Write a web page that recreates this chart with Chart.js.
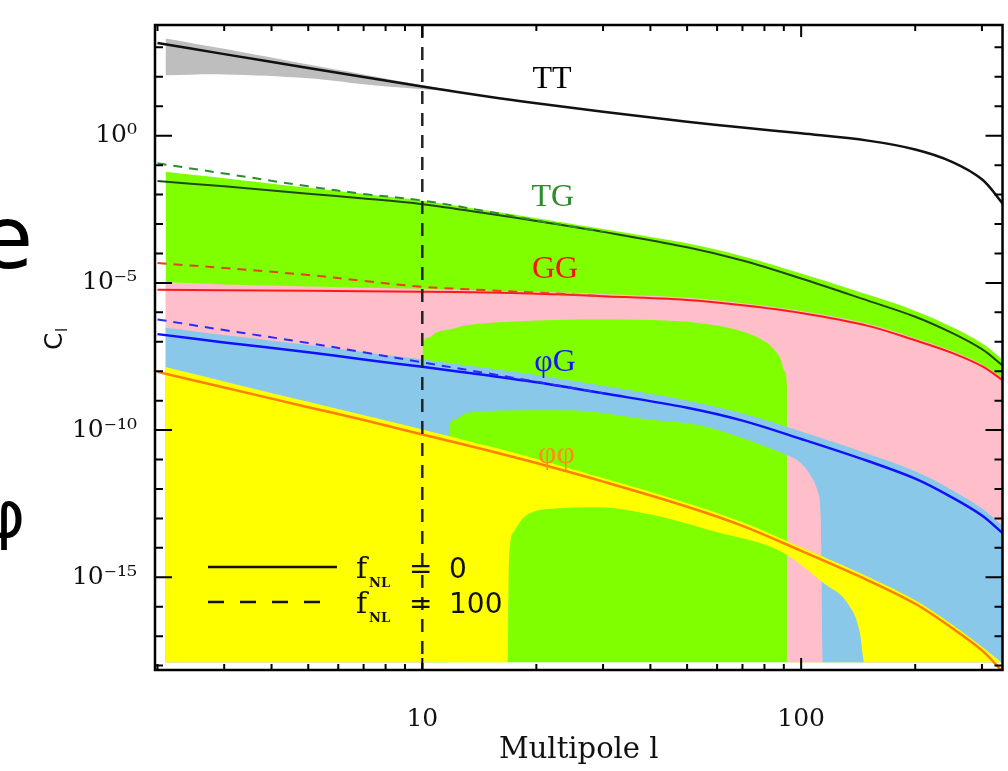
<!DOCTYPE html>
<html>
<head>
<meta charset="utf-8">
<title>Angular power spectra</title>
<script src="https://cdn.jsdelivr.net/npm/chart.js@4.4.1/dist/chart.umd.min.js"></script>
<style>
  body { margin: 0; background: #fff; }
  canvas { display: block; }
</style>
</head>
<body>
<canvas id="spectra" width="1008" height="771"></canvas>
<script>
'use strict';

// axis ranges
let ellMin = 1.97;
let ellMax = 340;
let clMin = 7.1e-19;
let clMax = 5.75e3;
// the shaded bands stop at this level
let clFloor = 1.3e-18;

// tick marks and their labels
let ellTicks = [2, 3, 4, 5, 6, 7, 8, 9, 10, 20, 30, 40, 50, 60, 70, 80, 90, 100, 200, 300];
let ellTickLabels = { 10: '10', 100: '100' };
let clDecades = [3, 2, 1, 0, -1, -2, -3, -4, -5, -6, -7, -8, -9, -10, -11, -12, -13, -14, -15, -16, -17, -18];
let clTickLabels = { '0': '10⁰', '-5': '10⁻⁵', '-10': '10⁻¹⁰', '-15': '10⁻¹⁵' };

// spectra, fNL = 0
let ells = [2, 3, 5, 7, 10, 15, 20, 30, 50, 70, 100, 150, 200, 250, 300, 340];
let clTT = [1.41e3, 5.9e2, 2.0e2, 98, 47, 21, 12.6, 6.5, 3.0, 1.9, 1.2, 0.68, 0.34, 0.13, 0.033, 0.005];
let clTG = [2.9e-2, 1.9e-2, 1.07e-2, 7.4e-3, 4.7e-3, 2.24e-3, 1.26e-3, 5.4e-4, 1.62e-4, 5.75e-5, 1.41e-5, 2.5e-6, 7.1e-7, 2.0e-7, 5.6e-8, 1.58e-8];
let clGG = [5.9e-6, 5.6e-6, 5.4e-6, 5.25e-6, 5.0e-6, 4.7e-6, 4.3e-6, 3.55e-6, 2.63e-6, 1.74e-6, 9.5e-7, 3.47e-7, 1.12e-7, 4.2e-8, 1.48e-8, 5.0e-9];
let clPG = [1.82e-7, 9.5e-8, 4.4e-8, 2.5e-8, 1.41e-8, 7.1e-9, 4.2e-9, 1.78e-9, 5.75e-10, 2.1e-10, 5.0e-11, 8.9e-12, 2.24e-12, 5.2e-13, 1.26e-13, 3.2e-14];
let clPP = [9.5e-9, 2.8e-9, 6.0e-10, 2.2e-10, 7.1e-11, 2.0e-11, 7.6e-12, 1.78e-12, 2.5e-13, 5.6e-14, 7.9e-15, 7.9e-16, 1.26e-16, 1.9e-17, 3.3e-18, 6.3e-19];

// spectra, fNL = 100 (only at low l, they join the fNL = 0 curves above)
let ellsLow = [2, 3, 5, 7, 10, 15, 20, 30];
let clTG100 = [0.115, 5.2e-2, 1.9e-2, 1.05e-2, 6.3e-3, 2.6e-3, 1.32e-3, 5.4e-4];
let clGG100 = [4.7e-5, 3.2e-5, 1.86e-5, 1.17e-5, 7.4e-6, 5.6e-6, 4.7e-6, 3.55e-6];
let clPG100 = [5.75e-7, 2.5e-7, 9.1e-8, 4.4e-8, 2.0e-8, 8.3e-9, 4.4e-9, 1.78e-9];

// error bands: upper edges
let bandEll = [2.1, 3, 5, 7, 10, 15, 20, 30, 50, 70, 100, 150, 200, 250, 300, 340];
let tgUpper = [6.0e-2, 3.6e-2, 1.7e-2, 1.05e-2, 6.2e-3, 2.8e-3, 1.58e-3, 6.8e-4, 2.2e-4, 8.1e-5, 2.1e-5, 4.0e-6, 1.12e-6, 3.2e-7, 8.9e-8, 2.5e-8];
let ggUpper = [1.07e-5, 8.9e-6, 7.6e-6, 6.9e-6, 6.3e-6, 5.5e-6, 5.0e-6, 4.2e-6, 3.1e-6, 2.04e-6, 1.12e-6, 4.1e-7, 1.32e-7, 4.9e-8, 1.74e-8, 5.9e-9];
let pgUpper = [3.0e-7, 1.7e-7, 7.8e-8, 4.5e-8, 2.5e-8, 1.26e-8, 7.4e-9, 3.2e-9, 1.02e-9, 3.7e-10, 8.9e-11, 1.58e-11, 4.0e-12, 9.3e-13, 2.2e-13, 5.6e-14];
let ppUpper = [1.38e-8, 4.5e-9, 9.1e-10, 3.2e-10, 1.05e-10, 2.8e-11, 1.05e-11, 2.34e-12, 3.3e-13, 7.4e-14, 1.05e-14, 1.05e-15, 1.66e-16, 2.5e-17, 4.4e-18, 1.2e-18];

// error bands: lower edges (down to the floor where the error exceeds the signal)
let tgLowerEll = [2.1, 340];
let tgLower = [clFloor, clFloor];
let ggLowerEll = [2.1, 10, 10.03, 10.4, 10.9, 11.8, 13, 17.6, 29, 48, 60, 70, 78, 84, 88, 90.5, 91.8, 92.3, 340];
let ggLower = [clFloor, clFloor, 7.9e-8, 1.4e-7, 2.1e-7, 2.6e-7, 3.6e-7, 4.9e-7, 5.75e-7, 5.0e-7, 3.55e-7, 2.24e-7, 1.26e-7, 6.3e-8, 2.8e-8, 1.0e-8, 2.5e-9, clFloor, clFloor];
let pgLowerEll = [2.1, 11.75, 11.8, 12.15, 13.05, 14.4, 24, 39.6, 53.5, 72.5, 80, 88.6, 98, 105.5, 110.7, 112.6, 114, 340];
let pgLower = [clFloor, clFloor, 1.26e-10, 2.3e-10, 3.7e-10, 4.4e-10, 4.7e-10, 2.3e-10, 1.5e-10, 4.6e-11, 2.8e-11, 1.7e-11, 9.1e-12, 3.1e-12, 7.8e-13, 1.1e-13, clFloor, clFloor];
let ppLowerEll = [2.1, 16.8, 16.93, 17.44, 18.55, 21.6, 29.2, 39.6, 59.4, 88.6, 115.5, 133, 143, 145.5, 146.5, 340];
let ppLower = [clFloor, clFloor, 3.5e-15, 3.5e-14, 1.1e-13, 2.1e-13, 2.4e-13, 1.4e-13, 3.5e-14, 7.4e-15, 5.9e-16, 1.23e-16, 1.23e-17, 2.2e-18, clFloor, clFloor];

// cosmic variance band of TT at the lowest multipoles
let ttBandEll = [2.1, 3, 5, 7, 10, 12];
let ttUpper = [2.0e3, 8.9e2, 2.6e2, 1.2e2, 52, 36];
let ttLower = [1.12e2, 1.2e2, 89, 56, 38, 33];

// where the spectrum names are written
let curveLabels = [
  { text: 'TT', ell: 22, cl: 82, color: '#000000' },
  { text: 'TG', ell: 22.1, cl: 7.7e-3, color: '#2e8b2e' },
  { text: 'GG', ell: 22.4, cl: 2.8e-5, color: '#ff1010' },
  { text: 'φG', ell: 22.4, cl: 1.9e-8, color: '#1414ff' },
  { text: 'φφ', ell: 22.6, cl: 1.45e-11, color: '#ff8c1a' }
];


function pts(ell, cl) {
  return ell.map((l, i) => ({ x: l, y: cl[i] }));
}

// smooth edge: upper band edges share the curve grid, lower edges need monotone steps
function band(ell, cl, color, order, target, steep) {
  let ds = {
    data: pts(ell, cl),
    borderWidth: 0,
    borderColor: 'transparent',
    backgroundColor: color,
    fill: target,
    order: order,
    pointRadius: 0
  };
  if (steep) ds.cubicInterpolationMode = 'monotone';
  else ds.tension = 0.35;
  return ds;
}

function curve(ell, cl, color, width, dash) {
  return {
    data: pts(ell, cl),
    borderColor: color,
    borderWidth: width,
    borderDash: dash,
    fill: false,
    order: 1,
    pointRadius: 0,
    tension: 0.35
  };
}

let datasets = [
  band(ttBandEll, ttUpper, '#bebebe', 100, 1, false),
  band(ttBandEll, ttLower, 'transparent', 100, false, false),
  band(bandEll, tgUpper, '#80ff00', 90, 3, false),
  band(tgLowerEll, tgLower, 'transparent', 90, false, true),
  band(bandEll, ggUpper, '#ffbfca', 80, 5, false),
  band(ggLowerEll, ggLower, 'transparent', 80, false, true),
  band(bandEll, pgUpper, '#8ac8ea', 70, 7, false),
  band(pgLowerEll, pgLower, 'transparent', 70, false, true),
  band(bandEll, ppUpper, '#ffff00', 60, 9, false),
  band(ppLowerEll, ppLower, 'transparent', 60, false, true),

  curve(ellsLow, clTG100, '#2a8f2a', 2, [9, 7]),
  curve(ellsLow, clGG100, '#e8401a', 2, [9, 7]),
  curve(ellsLow, clPG100, '#2a2aff', 2, [9, 7]),
  curve(ells, clTT, '#111111', 2.5, []),
  curve(ells, clTG, '#1f4a14', 2, []),
  curve(ells, clGG, '#ff1a1a', 2, []),
  curve(ells, clPG, '#1010ff', 2.5, []),
  curve(ells, clPP, '#ff7f00', 2.5, []),

  // l = 10 marker
  {
    data: [{ x: 10, y: clMax }, { x: 10, y: clMin }],
    borderColor: '#222222',
    borderWidth: 2.5,
    borderDash: [13, 9],
    fill: false,
    order: 0,
    pointRadius: 0,
    tension: 0
  }
];


let decorations = {
  id: 'decorations',
  afterDatasetsDraw(chart) {
    let ctx = chart.ctx;
    let area = chart.chartArea;
    let xs = chart.scales.x;
    let ys = chart.scales.y;
    ctx.save();

    // frame
    ctx.strokeStyle = '#000';
    ctx.lineWidth = 2.5;
    ctx.setLineDash([]);
    ctx.strokeRect(area.left, area.top, area.right - area.left, area.bottom - area.top);

    // tick marks point into the plot on all four sides
    ctx.lineWidth = 2;
    ctx.beginPath();
    for (let t of ys.ticks) {
      let py = ys.getPixelForValue(t.value);
      let len = t.label ? 17 : 8;
      ctx.moveTo(area.left, py);
      ctx.lineTo(area.left + len, py);
      ctx.moveTo(area.right, py);
      ctx.lineTo(area.right - len, py);
    }
    for (let t of xs.ticks) {
      let px = xs.getPixelForValue(t.value);
      let len = t.label ? 12 : 6;
      ctx.moveTo(px, area.bottom);
      ctx.lineTo(px, area.bottom - len);
      ctx.moveTo(px, area.top);
      ctx.lineTo(px, area.top + len);
    }
    ctx.stroke();

    // spectrum names
    ctx.textAlign = 'center';
    ctx.textBaseline = 'middle';
    ctx.font = "32px 'Liberation Serif'";
    for (let lab of curveLabels) {
      ctx.fillStyle = lab.color;
      ctx.fillText(lab.text, xs.getPixelForValue(lab.ell), ys.getPixelForValue(lab.cl));
    }

    // line style key
    let keyX = area.left + 53;
    let keyY = area.bottom - 103;
    let rows = [
      { dash: [], len: 129, value: '0' },
      { dash: [16, 16], len: 114, value: '100' }
    ];
    ctx.textAlign = 'left';
    ctx.textBaseline = 'alphabetic';
    ctx.fillStyle = '#111';
    ctx.strokeStyle = '#111';
    rows.forEach((r, i) => {
      let y = keyY + i * 35;
      ctx.lineWidth = 2.5;
      ctx.setLineDash(r.dash);
      ctx.beginPath();
      ctx.moveTo(keyX, y);
      ctx.lineTo(keyX + r.len, y);
      ctx.stroke();
      ctx.setLineDash([]);
      ctx.font = "30px 'DejaVu Serif'";
      ctx.fillText('f', keyX + 148, y + 11);
      ctx.font = "bold 13px 'DejaVu Serif'";
      ctx.fillText('NL', keyX + 161, y + 20);
      ctx.font = "28px 'DejaVu Sans'";
      ctx.fillText('=', keyX + 201, y + 11);
      ctx.fillText(r.value, keyX + 241, y + 11);
    });

    // y axis title, C with subscript l, reading upwards
    ctx.save();
    ctx.translate(54, 340);
    ctx.rotate(-Math.PI / 2);
    ctx.fillStyle = '#111';
    ctx.textAlign = 'left';
    ctx.font = "25px 'DejaVu Sans'";
    ctx.fillText('C', -10, 8);
    ctx.font = "15px 'DejaVu Sans'";
    ctx.fillText('l', 8, 13);
    ctx.restore();

    // pieces of the slide text at the left edge
    ctx.fillStyle = '#000';
    ctx.font = "88px 'DejaVu Sans'";
    ctx.fillText('e', -21, 268);
    ctx.font = "64px 'DejaVu Sans'";
    ctx.textAlign = 'center';
    ctx.fillText('φ', 4, 537);

    ctx.restore();
  }
};

Chart.defaults.font.family = "'DejaVu Serif', serif";
Chart.defaults.color = '#111';

new Chart(document.getElementById('spectra'), {
  type: 'line',
  data: { datasets: datasets },
  options: {
    responsive: false,
    animation: false,
    events: [],
    layout: { padding: { top: 17, right: 3, left: 0, bottom: 0 } },
    plugins: {
      legend: { display: false },
      tooltip: { enabled: false },
      filler: { propagate: false }
    },
    scales: {
      x: {
        type: 'logarithmic',
        min: ellMin,
        max: ellMax,
        grid: { display: false },
        border: { display: false },
        afterBuildTicks(scale) {
          scale.ticks = ellTicks.map(v => ({ value: v }));
        },
        afterFit(scale) {
          scale.height = 101;
        },
        ticks: {
          autoSkip: false,
          maxRotation: 0,
          padding: 26,
          font: { size: 25 },
          callback: v => ellTickLabels[v] || ''
        },
        title: {
          display: true,
          text: 'Multipole l',
          font: { size: 29 },
          padding: { top: 0, bottom: 3 }
        }
      },
      y: {
        type: 'logarithmic',
        min: clMin,
        max: clMax,
        grid: { display: false },
        border: { display: false },
        afterBuildTicks(scale) {
          scale.ticks = clDecades.map(k => ({ value: Math.pow(10, k) }));
        },
        afterFit(scale) {
          scale.width = 155;
        },
        ticks: {
          autoSkip: false,
          padding: 10,
          font: { size: 25 },
          callback: v => clTickLabels[Math.round(Math.log10(v))] || ''
        }
      }
    }
  },
  plugins: [decorations]
});
</script>
</body>
</html>
